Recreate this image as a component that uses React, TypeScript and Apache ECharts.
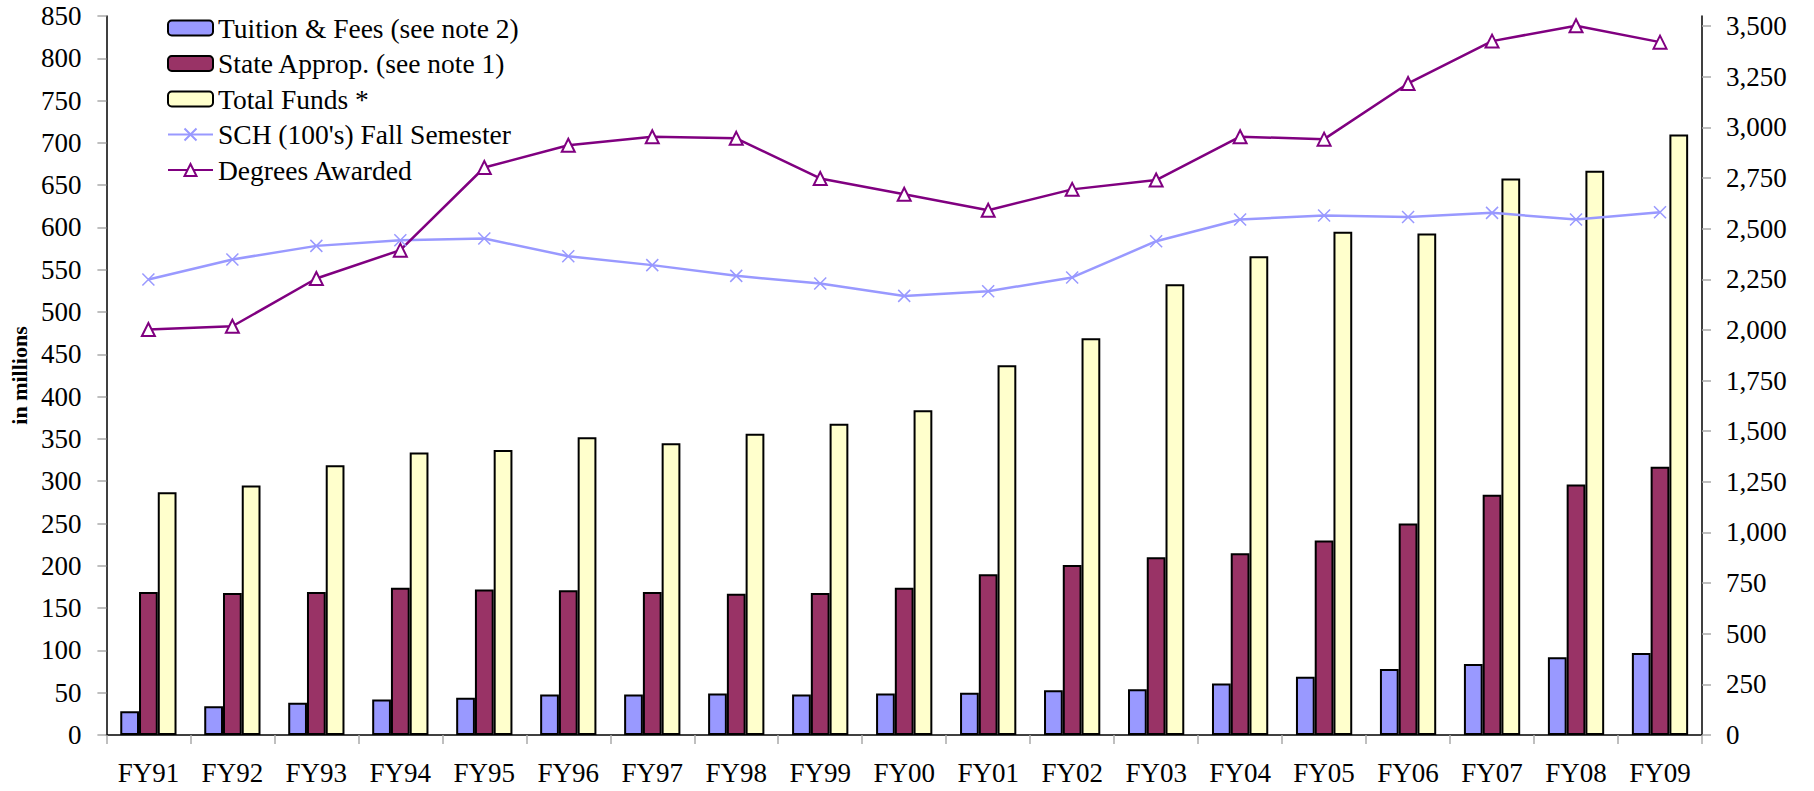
import React, { useEffect, useRef } from "react";
import * as echarts from "echarts";

const categories = ["FY91", "FY92", "FY93", "FY94", "FY95", "FY96", "FY97", "FY98", "FY99", "FY00", "FY01", "FY02", "FY03", "FY04", "FY05", "FY06", "FY07", "FY08", "FY09"];
const tuition = [28, 34, 38, 42, 44, 48, 48, 49, 48, 49, 50, 53, 54, 61, 69, 78, 84, 92, 97];
const stateApprop = [169, 168, 169, 174, 172, 171, 169, 167, 168, 174, 190, 201, 210, 215, 230, 250, 284, 296, 317];
const totalFunds = [287, 295, 319, 334, 337, 352, 345, 356, 368, 384, 437, 469, 533, 566, 595, 593, 658, 667, 710];
const sch = [2249, 2348, 2415, 2443, 2451, 2364, 2320, 2267, 2229, 2168, 2191, 2259, 2438, 2545, 2565, 2558, 2578, 2545, 2581];
const degrees = [2002, 2018, 2254, 2394, 2802, 2912, 2954, 2946, 2748, 2670, 2591, 2694, 2740, 2954, 2942, 3217, 3426, 3502, 3421];
const rightTicks = [0, 250, 500, 750, 1000, 1250, 1500, 1750, 2000, 2250, 2500, 2750, 3000, 3250, 3500];

const FONT = "'Liberation Serif', 'Times New Roman', serif";

export default function App() {
  const ref = useRef<HTMLDivElement>(null);
  useEffect(() => {
    if (!ref.current) return;
    const chart = echarts.init(ref.current, null, { renderer: "svg" });
    const barBorder = { borderColor: "#000", borderWidth: 2 };
    chart.setOption({
      animation: false,
      backgroundColor: "#fff",
      textStyle: { fontFamily: FONT },
      grid: { left: 106, right: 112, top: 16, bottom: 56, containLabel: false },
      legend: {
        orient: "vertical",
        left: 162,
        top: 9,
        itemWidth: 45,
        itemHeight: 15,
        itemGap: 7.5,
        textStyle: { fontSize: 27.5, fontFamily: FONT, color: "#000" },
        data: ["Tuition & Fees (see note 2)", "State Approp. (see note 1)", "Total Funds *", "SCH (100's) Fall Semester", "Degrees Awarded"],
      },
      xAxis: {
        type: "category",
        data: categories,
        boundaryGap: true,
        axisLine: { lineStyle: { color: "#000", width: 1.5 } },
        axisTick: { show: true, length: 9, lineStyle: { color: "#aaa", width: 1.5 } },
        axisLabel: { interval: 0, fontSize: 27, fontFamily: FONT, color: "#000", margin: 24 },
      },
      yAxis: [
        {
          type: "value",
          min: 0,
          max: 850,
          interval: 50,
          name: "in millions",
          nameLocation: "middle",
          nameRotate: 90,
          nameGap: 74,
          nameTextStyle: { fontSize: 22, fontWeight: "bold", fontFamily: FONT, color: "#000" },
          axisLine: { show: true, lineStyle: { color: "#000", width: 1.5 } },
          axisTick: { show: true, length: 9, lineStyle: { color: "#aaa", width: 1.5 } },
          axisLabel: { fontSize: 27, fontFamily: FONT, color: "#000", margin: 25 },
          splitLine: { show: false },
        },
        {
          type: "value",
          min: 0,
          max: 3550,
          interval: 250,
          position: "right",
          axisLine: { show: true, lineStyle: { color: "#000", width: 1.5 } },
          axisTick: { show: true, length: 9, lineStyle: { color: "#aaa", width: 1.5 }, customValues: rightTicks },
          axisLabel: {
            fontSize: 27,
            fontFamily: FONT,
            color: "#000",
            margin: 24,
            customValues: rightTicks,
            formatter: (v: number) => (v % 250 === 0 ? v.toLocaleString("en-US") : ""),
          },
          splitLine: { show: false },
        },
      ],
      series: [
        {
          name: "Tuition & Fees (see note 2)",
          type: "bar",
          data: tuition,
          barGap: "0%",
          barCategoryGap: "33%",
          itemStyle: { color: "#9999FF", ...barBorder },
        },
        {
          name: "State Approp. (see note 1)",
          type: "bar",
          data: stateApprop,
          barGap: "0%",
          barCategoryGap: "33%",
          itemStyle: { color: "#993366", ...barBorder },
        },
        {
          name: "Total Funds *",
          type: "bar",
          data: totalFunds,
          barGap: "0%",
          barCategoryGap: "33%",
          itemStyle: { color: "#FFFFCC", ...barBorder },
        },
        {
          name: "SCH (100's) Fall Semester",
          type: "line",
          yAxisIndex: 1,
          data: sch,
          symbol: "path://M0,0L10,10M10,0L0,10",
          symbolSize: 12,
          showAllSymbol: true,
          lineStyle: { color: "#9999FF", width: 2.5 },
          itemStyle: { color: "#9999FF", borderColor: "#9999FF", borderWidth: 1.5 },
        },
        {
          name: "Degrees Awarded",
          type: "line",
          yAxisIndex: 1,
          data: degrees,
          symbol: "triangle",
          symbolSize: 13,
          showAllSymbol: true,
          lineStyle: { color: "#800080", width: 2.5 },
          itemStyle: { color: "#fff", borderColor: "#800080", borderWidth: 2 },
        },
      ],
    });
    return () => chart.dispose();
  }, []);
  return <div ref={ref} style={{ position: "absolute", left: 0, top: 0, width: 1814, height: 791 }} />;
}
